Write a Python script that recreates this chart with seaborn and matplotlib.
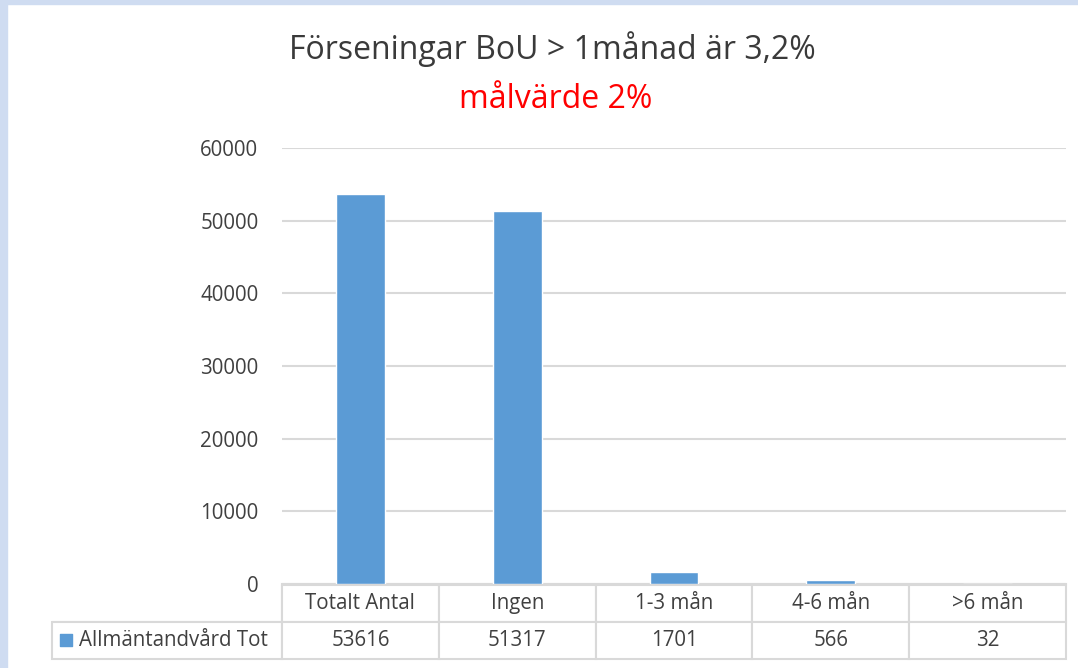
import matplotlib
matplotlib.use('Agg')
import matplotlib.pyplot as plt
import seaborn as sns
import pandas as pd
from matplotlib.patches import Rectangle

CATEGORIES = ['Totalt Antal', 'Ingen', '1-3 mån', '4-6 mån', '>6 mån']
VALUES = [53616, 51317, 1701, 566, 32]
SERIES = 'Allmäntandvård Tot'
TITLE = 'Förseningar BoU > 1månad är 3,2%'
SUBTITLE = 'målvärde 2%'
Y_TICKS = [0, 10000, 20000, 30000, 40000, 50000, 60000]

BAR_COLOR = '#5b9bd5'
GRID_COLOR = '#d9d9d9'
TEXT_COLOR = '#404040'
FS = 14.8

sns.set_style('white')
plt.rcParams['font.family'] = ['Open Sans', 'DejaVu Sans']

df = pd.DataFrame({'cat': CATEGORIES, 'val': VALUES})

fig = plt.figure(figsize=(10.78, 6.68), dpi=100)

# slide background strips
fig.patches.append(Rectangle((0, 0), 7 / 1078, 1, transform=fig.transFigure,
                             color='#cfdcf1', zorder=0))
fig.patches.append(Rectangle((0, 1 - 4 / 668), 1, 4 / 668, transform=fig.transFigure,
                             color='#cfdcf1', zorder=0))

ax = fig.add_axes([282 / 1078, 84 / 668, 784 / 1078, 436 / 668])
sns.barplot(data=df, x='cat', y='val', color=BAR_COLOR, width=0.31,
            saturation=1, ax=ax, zorder=3)

ax.set_ylim(0, 60000)
ax.set_xlim(-0.5, len(CATEGORIES) - 0.5)
ax.set_yticks(Y_TICKS)
ax.set_yticklabels([str(t) for t in Y_TICKS], fontsize=FS, color=TEXT_COLOR)
ax.tick_params(axis='y', length=0, pad=17)
ax.set_xticks([])
ax.set_xlabel('')
ax.set_ylabel('')
ax.yaxis.grid(True, color=GRID_COLOR, linewidth=1.5, zorder=0)
for s in ['left', 'right', 'top']:
    ax.spines[s].set_visible(False)
ax.spines['bottom'].set_color(GRID_COLOR)
ax.spines['bottom'].set_linewidth(1.5)

# data table below the axes
label_w = 230 / 784
col_w = 1 / len(CATEGORIES)
cell_text = [[''] + CATEGORIES,
             [SERIES] + [str(v) for v in VALUES]]
tbl = ax.table(cellText=cell_text,
               colWidths=[label_w] + [col_w] * len(CATEGORIES),
               cellLoc='center',
               bbox=[-label_w, -75 / 436, 1 + label_w, 74 / 436])
tbl.auto_set_font_size(False)
for (r, c), cell in tbl.get_celld().items():
    cell.set_edgecolor(GRID_COLOR)
    cell.set_linewidth(1.5)
    cell.get_text().set_fontsize(FS)
    cell.get_text().set_color(TEXT_COLOR)
    if r == 0 and c == 0:
        cell.visible_edges = 'BR'
    if r == 1 and c == 0:
        cell.PAD = 27 / 230
        cell.get_text().set_ha('left')
        cell._loc = 'left'

# legend key inside the row label cell
ax.scatter([-label_w + 14 / 784], [-56 / 436], marker='s', s=80,
           color=BAR_COLOR, transform=ax.transAxes, clip_on=False, zorder=5)

fig.text(552 / 1078, 1 - 49 / 668, TITLE, ha='center', va='center',
         fontsize=23, color='#3a3a3a')
fig.text(556 / 1078, 1 - 99 / 668, SUBTITLE, ha='center', va='center',
         fontsize=23, color='#ff0000')

fig.savefig('out.png', dpi=100)
